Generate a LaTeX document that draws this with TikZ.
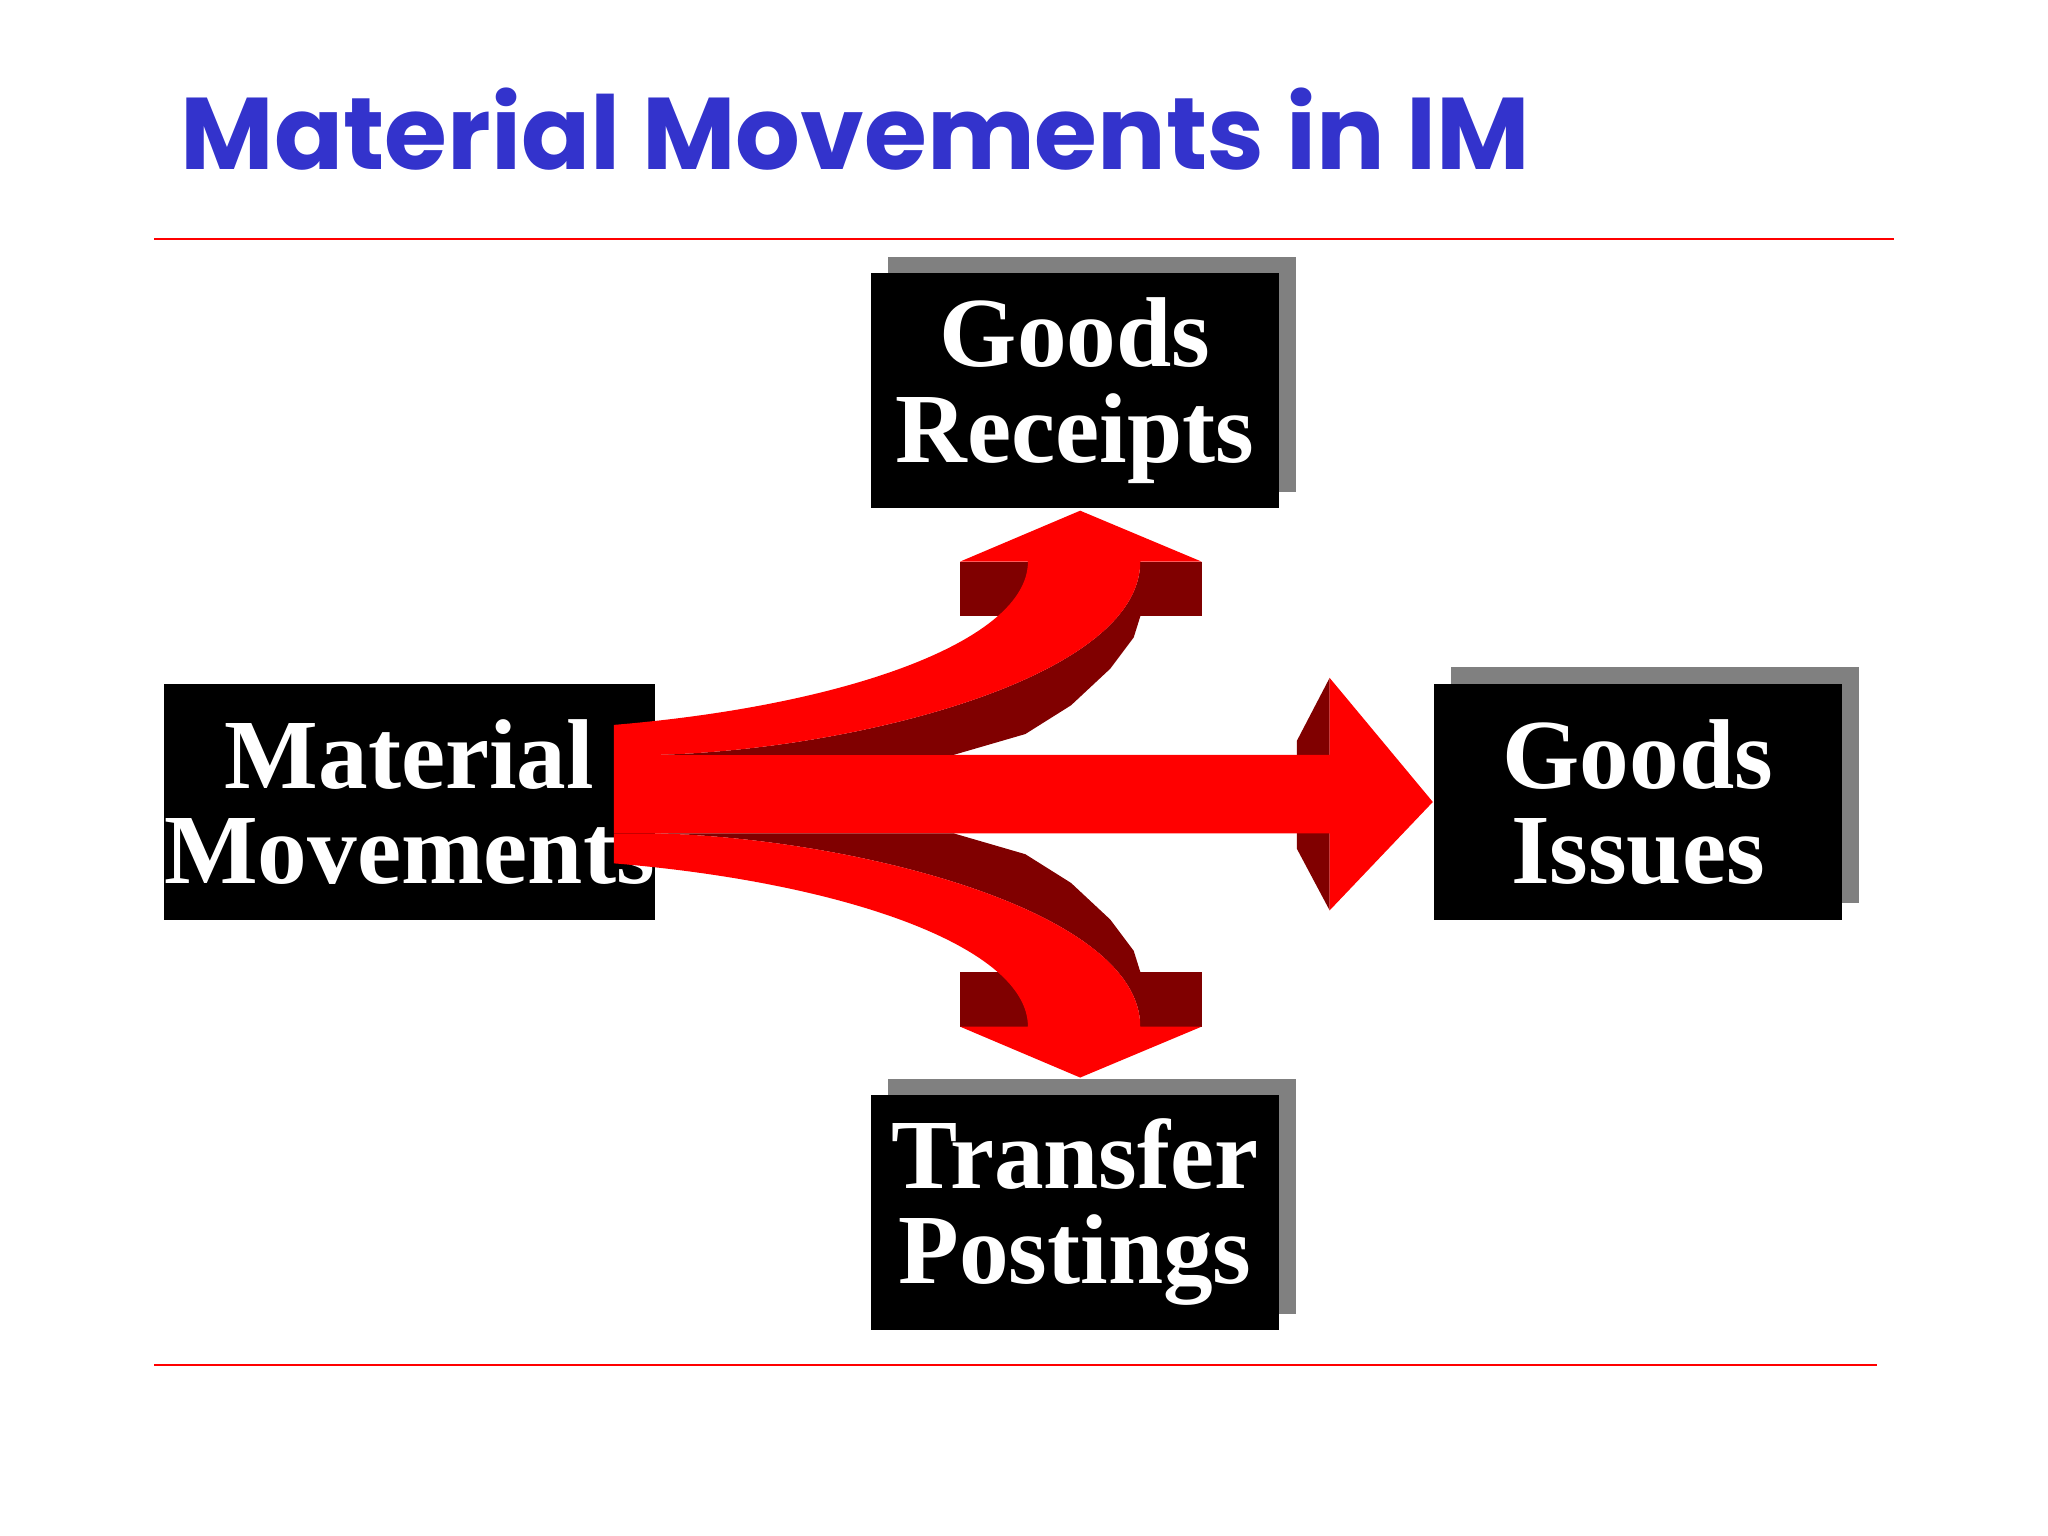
\documentclass[tikz,border=0pt]{standalone}
\usepackage{fontspec}
\setmainfont{Liberation Serif}
\newfontfamily\titlefont{Poppins}
\definecolor{ttl}{RGB}{51,51,204}
\definecolor{dred}{RGB}{128,0,0}
\definecolor{shd}{RGB}{128,128,128}
\tikzset{
 box/.style={fill=black,text=white,font=\fontsize{38}{36.5}\selectfont\bfseries,align=center,inner sep=0pt},
 rule/.style={draw=red,line width=1pt}
}
\newcommand{\uparr}{%
 \fill[dred] (873,430) -- (873,472) -- (868,488) -- (850,512) -- (820,540) -- (785,562) -- (730,578) -- (500,578) .. controls (650,575) and (873,520) .. (873,430) -- cycle;
 \fill[dred] (735,430) rectangle (787,472);
 \fill[dred] (873,430) rectangle (920,472);
 \fill[red] (470,555) .. controls (650,540) and (787,490) .. (787,430) -- (735,430) -- (827,391) -- (920,430) -- (873,430) .. controls (873,520) and (650,575) .. (500,578) -- (470,578) -- cycle;
}
\begin{document}
\begin{tikzpicture}[x=0.5pt,y=-0.5pt]
\useasboundingbox (0,0) rectangle (1568,1176);
\node[anchor=base west,text=ttl,font=\titlefont\fontsize{39}{40}\selectfont\bfseries,inner sep=0pt] (title) at (138,130) {Material Movements in IM};
\coordinate (r1a) at (118,183); \coordinate (r1b) at (1450,183);
\coordinate (r2a) at (118,1045); \coordinate (r2b) at (1437,1045);
\draw[rule] (r1a) -- (r1b);
\draw[rule] (r2a) -- (r2b);
% shadows
\fill[shd] (680,197) rectangle (992,377);
\fill[shd] (1111,511) rectangle (1423,691);
\fill[shd] (680,826) rectangle (992,1006);
% boxes
\node[box,minimum width=156.5pt,minimum height=90pt] (mm) at (313.5,614) {Material\\Movements};
\node[box,minimum width=156pt,minimum height=90pt] (gr) at (823,299) {Goods\\Receipts};
\node[box,minimum width=156pt,minimum height=90pt] (gi) at (1254,614) {Goods\\Issues};
\node[box,minimum width=156pt,minimum height=90pt] (tp) at (823,928) {Transfer\\Postings};
% arrows
\fill[dred] (993,567) -- (1018,519) -- (1018,697) -- (993,650) -- cycle;
\fill[red] (470,578) -- (1018,578) -- (1018,519) -- (1097,614) -- (1018,697) -- (1018,638) -- (470,638) -- cycle;
\uparr
\begin{scope}[shift={(0,1216)},yscale=-1]
\uparr
\end{scope}
\end{tikzpicture}
\end{document}
